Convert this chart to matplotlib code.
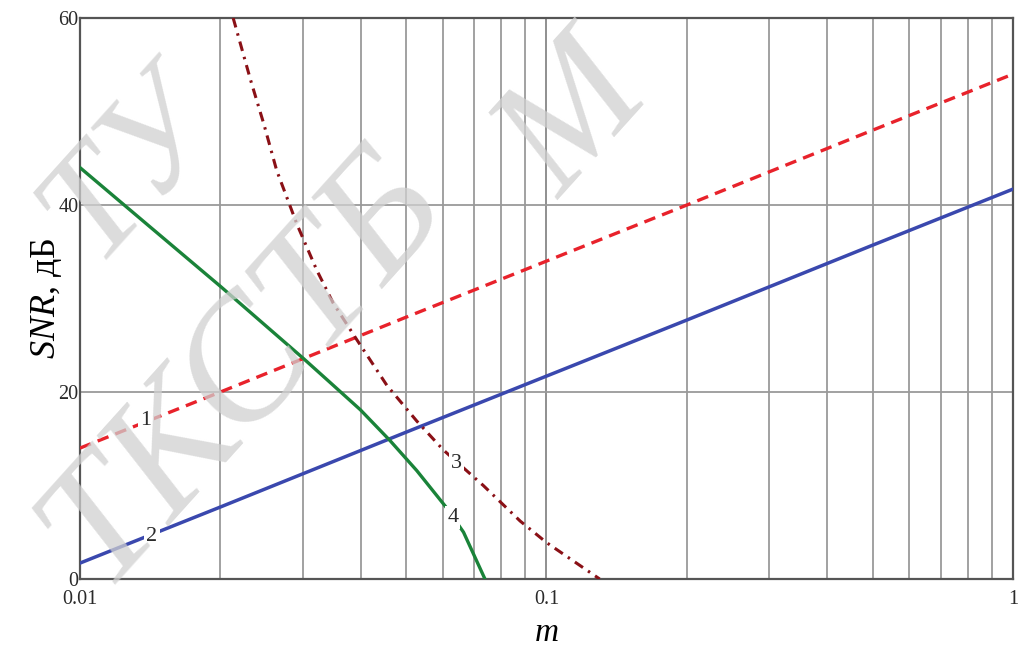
import numpy as np
import matplotlib.pyplot as plt
from matplotlib.ticker import FixedLocator, NullFormatter

plt.rcParams['font.family'] = ['Liberation Serif', 'DejaVu Serif']
plt.rcParams['mathtext.fontset'] = 'custom'
plt.rcParams['mathtext.it'] = 'Liberation Serif:italic'
plt.rcParams['mathtext.rm'] = 'Liberation Serif'

# Curve 1 (red dashed)
m1 = [0.01, 0.02, 0.05, 0.1, 0.2, 0.5, 1.0]
snr1 = [14.0, 20.0, 28.0, 34.0, 40.0, 48.0, 54.0]
# Curve 2 (blue solid)
m2 = [0.01, 0.02, 0.05, 0.1, 0.2, 0.5, 1.0]
snr2 = [1.7, 7.7, 15.7, 21.7, 27.7, 35.7, 41.7]
# Curve 3 (dark red dash-dot)
m3 = [0.0213, 0.0232, 0.0248, 0.0264, 0.0292, 0.0322, 0.0349, 0.0392,
      0.0455, 0.0527, 0.0601, 0.0732, 0.0878, 0.1, 0.130]
snr3 = [60.0, 53.4, 48.6, 43.7, 37.9, 33.0, 29.5, 25.6,
        20.7, 16.9, 13.8, 10.0, 6.2, 3.9, 0.0]
# Curve 4 (green solid)
m4 = [0.01, 0.0141, 0.02, 0.0301, 0.0344, 0.0399, 0.0462, 0.0527, 0.0611, 0.0664, 0.0738]
snr4 = [44.0, 37.7, 31.3, 23.6, 21.0, 18.1, 14.8, 11.6, 7.6, 5.0, 0.0]

# curve number labels
lab_text = ['1', '2', '3', '4']
lab_m = [0.01385, 0.01427, 0.0640, 0.0630]
lab_snr = [16.9, 4.5, 12.4, 6.6]

xticks = [0.01, 0.1, 1]
xtick_labels = ['0.01', '0.1', '1']
yticks = [0, 20, 40, 60]

fig = plt.figure(figsize=(10.19, 6.48), dpi=100)
ax = fig.add_axes([0.0785, 0.1065, 0.9156, 0.8657])

ax.set_xscale('log')
ax.set_xlim(0.01, 1)
ax.set_ylim(0, 60)

ax.plot(m1, snr1, color='#e8222b', lw=2.4, dashes=(3.5, 2.2), zorder=3)
ax.plot(m2, snr2, color='#3a48ae', lw=2.5, zorder=3)
ax.plot(m3, snr3, color='#8a1016', lw=2.2, dashes=(3.2, 2.0, 0.8, 2.0), zorder=3)
ax.plot(m4, snr4, color='#1a8339', lw=2.4, zorder=3)

for t, xm, ys in zip(lab_text, lab_m, lab_snr):
    ax.text(xm, ys, t, fontsize=16, color='#2a2a2a', ha='center', va='center', zorder=4,
            bbox=dict(facecolor='white', edgecolor='none', pad=1.5))

# grid
minor = [k * 10.0**e for e in (-2, -1) for k in range(2, 10)]
ax.xaxis.set_minor_locator(FixedLocator(minor))
ax.xaxis.set_minor_formatter(NullFormatter())
ax.set_xticks(xticks)
ax.set_xticklabels(xtick_labels)
ax.set_yticks(yticks)
ax.grid(True, which='both', axis='x', color='#9a9a9a', lw=1.3, zorder=1)
ax.grid(True, axis='y', color='#9a9a9a', lw=1.3, zorder=1)
ax.axvline(0.1, color='#444444', lw=1.4, zorder=1.5)

for s in ax.spines.values():
    s.set_color('#555555')
    s.set_linewidth(1.6)

ax.tick_params(which='both', length=0, labelsize=14.5, labelcolor='#2a2a2a')
ax.tick_params(axis='x', pad=8)
ax.tick_params(axis='y', pad=1)

ax.set_xlabel(r'$m$', fontsize=24, labelpad=6)
ax.set_ylabel(r'$SNR$, дБ', fontsize=26, labelpad=-4)

# faint watermark
wm = dict(color='#d0d0d0', alpha=0.75, style='italic', rotation=48,
          rotation_mode='anchor', zorder=10, ha='left', va='baseline')
fig.text(102 / 1019, 1 - 588 / 648, 'ТКСТБ', fontsize=125, **wm)
fig.text(95 / 1019, 1 - 262 / 648, 'ТУ', fontsize=110, **wm)
fig.text(560 / 1019, 1 - 200 / 648, 'М', fontsize=120, **wm)

fig.savefig('out.png', dpi=100)
